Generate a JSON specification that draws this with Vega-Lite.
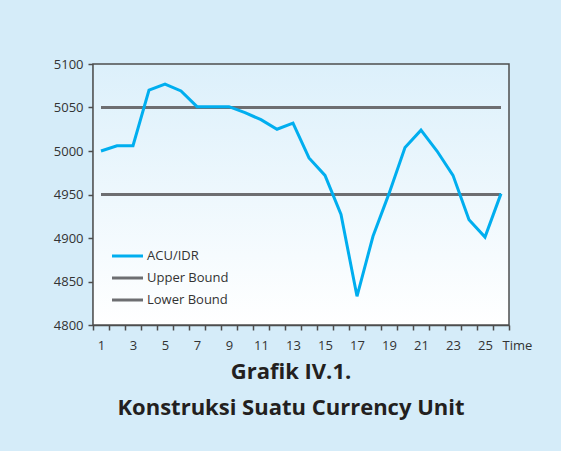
{
  "$schema": "https://vega.github.io/schema/vega-lite/v6.json",
  "width": 416,
  "height": 261,
  "autosize": {"type": "none"},
  "padding": {"left": 93, "top": 64, "right": 52, "bottom": 126},
  "background": "#d5ecf9",
  "title": {
    "text": "Grafik IV.1.",
    "subtitle": "Konstruksi Suatu Currency Unit",
    "orient": "bottom",
    "anchor": "middle",
    "dx": -10,
    "offset": 10,
    "font": "Open Sans",
    "fontSize": 22,
    "fontWeight": "bold",
    "color": "#231f20",
    "subtitleFont": "Open Sans",
    "subtitleFontSize": 22,
    "subtitleFontWeight": "bold",
    "subtitleColor": "#231f20",
    "subtitlePadding": 14
  },
  "config": {
    "font": "Open Sans",
    "view": {"stroke": null},
    "axis": {"zindex": 1, "grid": false, "labelOverlap": false, "domainColor": "#4d4d4d", "domainWidth": 1.5, "tickColor": "#4d4d4d", "tickWidth": 1.5},
    "legend": {
      "orient": "none", "legendX": 25, "legendY": 182.5, "title": null, "padding": 0,
      "symbolType": "M-2,0H2", "symbolSize": 240, "symbolStrokeWidth": 3,
      "labelFontSize": 13, "labelColor": "#333333", "labelFont": "Open Sans",
      "rowPadding": 5, "labelOffset": 10
    }
  },
  "datasets": {
    "d": [
      {"t": 1, "value": 5000, "series": "ACU/IDR"},
      {"t": 2, "value": 5006, "series": "ACU/IDR"},
      {"t": 3, "value": 5006, "series": "ACU/IDR"},
      {"t": 4, "value": 5070, "series": "ACU/IDR"},
      {"t": 5, "value": 5077, "series": "ACU/IDR"},
      {"t": 6, "value": 5069, "series": "ACU/IDR"},
      {"t": 7, "value": 5051, "series": "ACU/IDR"},
      {"t": 8, "value": 5051, "series": "ACU/IDR"},
      {"t": 9, "value": 5051, "series": "ACU/IDR"},
      {"t": 10, "value": 5044, "series": "ACU/IDR"},
      {"t": 11, "value": 5036, "series": "ACU/IDR"},
      {"t": 12, "value": 5025, "series": "ACU/IDR"},
      {"t": 13, "value": 5032, "series": "ACU/IDR"},
      {"t": 14, "value": 4992, "series": "ACU/IDR"},
      {"t": 15, "value": 4972, "series": "ACU/IDR"},
      {"t": 16, "value": 4927, "series": "ACU/IDR"},
      {"t": 17, "value": 4833, "series": "ACU/IDR"},
      {"t": 18, "value": 4902, "series": "ACU/IDR"},
      {"t": 19, "value": 4951, "series": "ACU/IDR"},
      {"t": 20, "value": 5004, "series": "ACU/IDR"},
      {"t": 21, "value": 5024, "series": "ACU/IDR"},
      {"t": 22, "value": 5000, "series": "ACU/IDR"},
      {"t": 23, "value": 4972, "series": "ACU/IDR"},
      {"t": 24, "value": 4921, "series": "ACU/IDR"},
      {"t": 25, "value": 4901, "series": "ACU/IDR"},
      {"t": 26, "value": 4951, "series": "ACU/IDR"},
      {"t": 1, "value": 5050, "series": "Upper Bound"},
      {"t": 26, "value": 5050, "series": "Upper Bound"},
      {"t": 1, "value": 4950, "series": "Lower Bound"},
      {"t": 26, "value": 4950, "series": "Lower Bound"}
    ]
  },
  "data": {"name": "d"},
  "layer": [
    {
      "data": {"values": [{}]},
      "mark": {
        "type": "rect",
        "stroke": "#4d4d4d",
        "strokeWidth": 1.5,
        "fill": {"gradient": "linear", "x1": 0, "y1": 0, "x2": 0, "y2": 1,
          "stops": [{"offset": 0, "color": "#dcf0fb"}, {"offset": 1, "color": "#ffffff"}]}
      },
      "encoding": {
        "y": {
          "datum": 4800, "type": "quantitative",
          "scale": {"domain": [4800, 5100], "nice": false, "zero": false},
          "axis": {
            "title": null,
            "values": [4800, 4850, 4900, 4950, 5000, 5050, 5100],
            "format": "d",
            "tickSize": 5,
            "labelPadding": 5,
            "labelFontSize": 13,
            "labelColor": "#333333"
          }
        },
        "y2": {"datum": 5100}
      }
    },
    {
      "transform": [{"filter": "datum.series !== 'ACU/IDR'"}],
      "mark": {"type": "line", "strokeWidth": 3},
      "encoding": {
        "x": {"field": "t", "type": "ordinal", "bandPosition": 0.5,
          "scale": {"type": "band", "domain": [1,2,3,4,5,6,7,8,9,10,11,12,13,14,15,16,17,18,19,20,21,22,23,24,25,26], "paddingInner": 0, "paddingOuter": 0},
          "axis": {
            "title": "Time",
            "tickBand": "extent",
            "labelExpr": "datum.value % 2 === 1 ? datum.label : ''",
            "labelOverlap": false,
            "labelAngle": 0,
            "tickSize": 5,
            "labelFontSize": 13,
            "labelColor": "#333333",
            "labelBaseline": "alphabetic",
            "labelPadding": 19,
            "titleX": 409,
            "titleY": 24,
            "titleAlign": "left",
            "titleBaseline": "alphabetic",
            "titleFontWeight": "normal",
            "titleFontSize": 13,
            "titleColor": "#333333"
          }},
        "y": {"field": "value", "type": "quantitative", "title": null},
        "detail": {"field": "series"},
        "color": {"field": "series", "type": "nominal",
          "scale": {"domain": ["ACU/IDR", "Upper Bound", "Lower Bound"], "range": ["#00aeef", "#6d6e71", "#6d6e71"]}}
      }
    },
    {
      "transform": [{"filter": "datum.series === 'ACU/IDR'"}],
      "mark": {"type": "line", "strokeWidth": 3},
      "encoding": {
        "x": {"field": "t", "type": "ordinal", "bandPosition": 0.5, "title": "Time"},
        "y": {"field": "value", "type": "quantitative", "title": null},
        "color": {"field": "series", "type": "nominal"}
      }
    }
  ]
}
